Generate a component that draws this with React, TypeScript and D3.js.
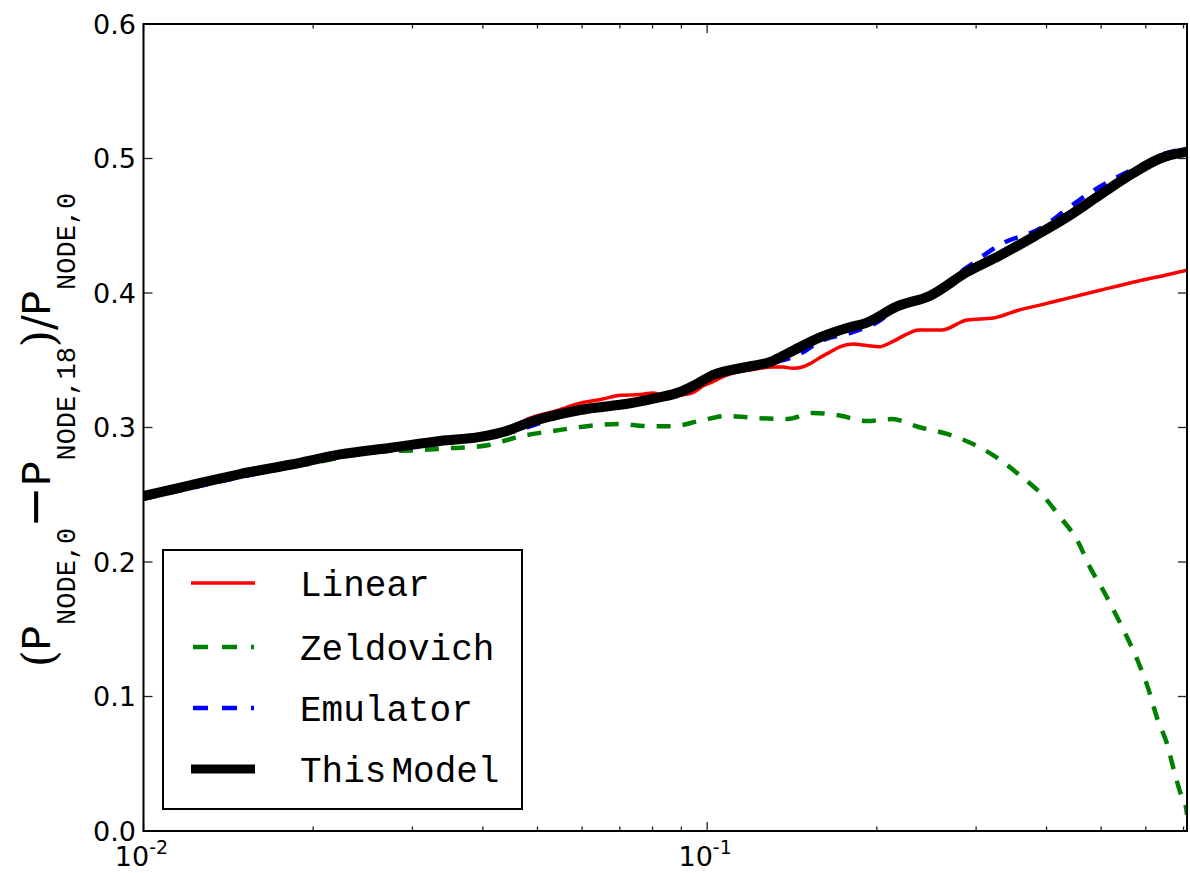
import React from "react";
import * as d3 from "d3";

// ---- data ----
const kModel = [0.01, 0.0121, 0.01483, 0.0183, 0.02232, 0.0275, 0.03358, 0.03954, 0.04416, 0.04851, 0.0595, 0.073, 0.0815, 0.0895, 0.0955, 0.1024, 0.1177, 0.1293, 0.1403, 0.1586, 0.1771, 0.1921, 0.2172, 0.2486, 0.2891, 0.3309, 0.3785, 0.4351, 0.4977, 0.5694, 0.636, 0.71];
const vModel = [0.249, 0.257, 0.2654, 0.2725, 0.28, 0.285, 0.29, 0.293, 0.2975, 0.304, 0.313, 0.318, 0.322, 0.3264, 0.332, 0.339, 0.345, 0.3487, 0.356, 0.367, 0.374, 0.378, 0.39, 0.398, 0.4156, 0.428, 0.4416, 0.4565, 0.473, 0.489, 0.5, 0.505];

const kEmu = [0.01, 0.0148, 0.0223, 0.0336, 0.0442, 0.0595, 0.073, 0.0895, 0.1024, 0.1177, 0.1293, 0.1433, 0.1606, 0.1812, 0.1998, 0.2172, 0.2486, 0.2891, 0.3309, 0.3936, 0.4351, 0.4757, 0.5225, 0.5834, 0.652, 0.71];
const vEmu = [0.247, 0.263, 0.278, 0.288, 0.296, 0.312, 0.317, 0.326, 0.338, 0.345, 0.348, 0.353, 0.365, 0.371, 0.378, 0.389, 0.399, 0.419, 0.436, 0.449, 0.4625, 0.474, 0.484, 0.494, 0.504, 0.507];

const kLin = [0.01, 0.0148, 0.0223, 0.0336, 0.0395, 0.0442, 0.0485, 0.0535, 0.0595, 0.065, 0.0701, 0.076, 0.0802, 0.085, 0.0895, 0.0944, 0.0985, 0.1024, 0.107, 0.1112, 0.12, 0.1309, 0.136, 0.1421, 0.1476, 0.153, 0.1586, 0.165, 0.1719, 0.1812, 0.192, 0.2019, 0.2128, 0.225, 0.2372, 0.2609, 0.2891, 0.3222, 0.3555, 0.3891, 0.4351, 0.4977, 0.5694, 0.652, 0.71];
const vLin = [0.249, 0.2655, 0.2805, 0.291, 0.2945, 0.299, 0.307, 0.312, 0.318, 0.321, 0.324, 0.3245, 0.3256, 0.323, 0.324, 0.326, 0.331, 0.334, 0.338, 0.3405, 0.343, 0.345, 0.345, 0.344, 0.345, 0.348, 0.352, 0.356, 0.36, 0.362, 0.361, 0.36, 0.3636, 0.369, 0.3725, 0.3725, 0.38, 0.3814, 0.387, 0.391, 0.396, 0.402, 0.408, 0.4134, 0.417];

const kZel = [0.01, 0.0148, 0.02, 0.02554, 0.03133, 0.03542, 0.03842, 0.041, 0.04416, 0.04523, 0.05052, 0.05196, 0.06119, 0.07007, 0.0782, 0.087, 0.09714, 0.1085, 0.1226, 0.1387, 0.1541, 0.17, 0.1921, 0.2128, 0.2372, 0.2665, 0.2987, 0.3282, 0.3621, 0.3928, 0.4227, 0.4532, 0.4778, 0.506, 0.5338, 0.5559, 0.5839, 0.6081, 0.6283, 0.6546, 0.6736, 0.696, 0.7075, 0.71];
const vZel = [0.248, 0.2635, 0.2735, 0.2818, 0.2833, 0.2848, 0.2855, 0.287, 0.2907, 0.292, 0.296, 0.2967, 0.301, 0.3026, 0.301, 0.301, 0.305, 0.3086, 0.307, 0.3063, 0.3108, 0.3093, 0.3048, 0.3063, 0.3004, 0.2952, 0.287, 0.277, 0.263, 0.25, 0.2335, 0.2164, 0.196, 0.1777, 0.159, 0.144, 0.124, 0.104, 0.084, 0.0647, 0.0446, 0.0245, 0.017, 0.012];

const yTicks = [0.0, 0.1, 0.2, 0.3, 0.4, 0.5, 0.6];
const xMajor = [0.01, 0.1];
const xMajorExp = ["-2", "-1"];
const xMinor = [0.02, 0.03, 0.04, 0.05, 0.06, 0.07, 0.08, 0.09, 0.2, 0.3, 0.4, 0.5, 0.6, 0.7];

const seriesNames = ["Linear", "Zeldovich", "Emulator", "This Model"];

export default function App() {
  const L = 143.5, R = 1187, T = 24, B = 831;
  const x = d3.scaleLog().domain([0.01, 0.71]).range([L, R]);
  const y = d3.scaleLinear().domain([0, 0.6]).range([B, T]);
  const line = d3
    .line<[number, number]>()
    .x((d) => x(d[0]))
    .y((d) => y(d[1]))
    .curve(d3.curveMonotoneX);
  const mk = (ks: number[], vs: number[]) => line(ks.map((k, i) => [k, vs[i]]) as [number, number][]) || "";

  const series = [
    { d: mk(kLin, vLin), color: "#ff0000", w: 3.5, dash: undefined },
    { d: mk(kZel, vZel), color: "#008000", w: 4.5, dash: "14,12" },
    { d: mk(kEmu, vEmu), color: "#0000ff", w: 4.5, dash: "14,12" },
    { d: mk(kModel, vModel), color: "#000000", w: 10, dash: undefined },
  ];

  const legendRows = [583, 647, 708, 769];
  const mono = "'Liberation Mono', 'DejaVu Sans Mono', monospace";
  const sans = "'DejaVu Sans', sans-serif";

  return (
    <svg width={1190} height={873} style={{ position: "absolute", left: 0, top: 0, background: "#fff" }}>
      <defs>
        <clipPath id="plotclip">
          <rect x={L} y={T} width={R - L} height={B - T} />
        </clipPath>
      </defs>
      <rect x={0} y={0} width={1190} height={873} fill="#fff" />
      <g clipPath="url(#plotclip)">
        {series.map((s, i) => (
          <path key={i} d={s.d} fill="none" stroke={s.color} strokeWidth={s.w} strokeDasharray={s.dash} strokeLinejoin="round" strokeLinecap={s.dash ? "butt" : "round"} />
        ))}
      </g>
      {/* ticks */}
      <g stroke="#222" strokeWidth={1.3}>
        {yTicks.map((t) => (
          <g key={"y" + t}>
            <line x1={L} x2={L + 9} y1={y(t)} y2={y(t)} />
            <line x1={R} x2={R - 9} y1={y(t)} y2={y(t)} />
          </g>
        ))}
        {xMajor.map((t) => (
          <g key={"xM" + t}>
            <line x1={x(t)} x2={x(t)} y1={B} y2={B - 9} />
            <line x1={x(t)} x2={x(t)} y1={T} y2={T + 9} />
          </g>
        ))}
        {xMinor.map((t) => (
          <g key={"xm" + t}>
            <line x1={x(t)} x2={x(t)} y1={B} y2={B - 4.5} />
            <line x1={x(t)} x2={x(t)} y1={T} y2={T + 4.5} />
          </g>
        ))}
      </g>
      {/* frame */}
      <rect x={L} y={T} width={R - L} height={B - T} fill="none" stroke="#000" strokeWidth={2} />
      {/* tick labels */}
      {yTicks.map((t) => (
        <text key={"yl" + t} x={136} y={y(t)} dy="0.36em" textAnchor="end" fontFamily={sans} fontSize={27} fill="#000">
          {t.toFixed(1)}
        </text>
      ))}
      {xMajor.map((t, i) => (
        <text key={"xl" + t} x={x(t) - 2} y={866} textAnchor="middle" fontFamily={sans} fontSize={27} fill="#000">
          10
          <tspan dy={-12} fontSize={19}>{xMajorExp[i]}</tspan>
        </text>
      ))}
      {/* y-axis label */}
      <g transform={`translate(50, 430) rotate(-90)`}>
        <text x={0} y={0} textAnchor="middle" fill="#000" fontFamily={mono}>
          <tspan fontFamily="'DejaVu Serif', serif" fontSize={44} dy={4}>(</tspan>
          <tspan fontSize={42} dy={-4}>P</tspan>
          <tspan fontSize={27} dy={25}>NODE,0</tspan>
          <tspan fontFamily="'DejaVu Sans', sans-serif" fontSize={50} dy={-23}>−</tspan>
          <tspan fontSize={42} dy={-2}>P</tspan>
          <tspan fontSize={27} dy={25}>NODE,18</tspan>
          <tspan fontFamily="'DejaVu Serif', serif" fontSize={44} dy={-21}>)/</tspan>
          <tspan fontSize={42} dy={-4}>P</tspan>
          <tspan fontSize={27} dy={25}>NODE,0</tspan>
        </text>
      </g>
      {/* legend */}
      <rect x={163} y={550} width={359} height={259} fill="#fff" stroke="#000" strokeWidth={2} />
      {series.map((s, i) => (
        <g key={"lg" + i}>
          <line x1={s.dash ? 193 : 191} x2={s.dash ? 254 : 255} y1={legendRows[i]} y2={legendRows[i]} stroke={s.color} strokeWidth={i === 3 ? 9 : s.w} strokeDasharray={s.dash ? "15,14" : undefined} />
          <text x={300} y={legendRows[i] + 13} fontFamily={mono} fontSize={36} fill="#000">
            {i === 3 ? (
              <>
                <tspan>This</tspan>
                <tspan dx={5}>Model</tspan>
              </>
            ) : (
              seriesNames[i]
            )}
          </text>
        </g>
      ))}
    </svg>
  );
}
